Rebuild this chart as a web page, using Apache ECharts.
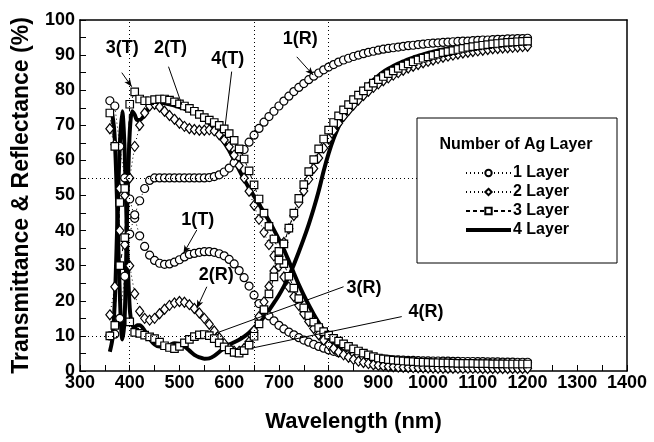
<!DOCTYPE html>
<html>
	<head>
		<meta charset="utf-8" />
		<title>Ag layer T/R</title>
		<script src="https://cdn.jsdelivr.net/npm/echarts@6/dist/echarts.min.js"></script>
		<style>
			html, body { margin: 0; padding: 0; background: #fff; }
			#main { width: 654px; height: 442px; }
		</style>
	</head>
	<body>
		<div id="main"></div>
		<script type="text/javascript">
			// wavelength grid (nm) for layers 1-3
			var wl = [360,370,380,390,400,410,420,430,440,450,
				460,470,480,490,500,510,520,530,540,550,
				560,570,580,590,600,610,620,630,640,650,
				660,670,680,690,700,710,720,730,740,750,
				760,770,780,790,800,810,820,830,840,850,
				860,870,880,890,900,910,920,930,940,950,
				960,970,980,990,1000,1010,1020,1030,1040,1050,
				1060,1070,1080,1090,1100,1110,1120,1130,1140,1150,
				1160,1170,1180,1190,1200];
			// finer grid at the start for the 4 layer curves
			var wl4 = [360,365,370,375,380,385,390,395,400,405,410,415,420,
				430,440,450,460,470,480,490,500,510,520,
				530,540,550,560,570,580,590,600,610,620,
				630,640,650,660,670,680,690,700,710,720,
				730,740,750,760,770,780,790,800,810,820,
				830,840,850,860,870,880,890,900,910,920,
				930,940,950,960,970,980,990,1000,1010,1020,
				1030,1040,1050,1060,1070,1080,1090,1100,1110,1120,
				1130,1140,1150,1160,1170,1180,1190,1200];

			var t1 = [77,75.5,64,55,49,43.5,38.5,35.5,33,31.5,
				30.7,30.4,30.5,31,31.7,32.5,33.2,33.5,33.8,34,
				34,33.8,33.4,32.8,31.8,30.5,28.6,26.6,24.2,21.6,
				19.2,17.3,15.7,14.3,13,12,11.1,10.3,9.5,8.8,
				8.2,7.6,7,6.5,6,5.6,5.2,4.9,4.6,4.3,
				4.1,3.9,3.7,3.6,3.5,3.4,3.3,3.2,3.15,3.1,
				3.05,3,2.95,2.9,2.9,2.85,2.85,2.8,2.8,2.75,
				2.75,2.7,2.7,2.7,2.65,2.65,2.6,2.6,2.6,2.55,
				2.55,2.55,2.5,2.5,2.5];
			var r1 = [10,10.5,15,27,39,44.5,48.5,52,54.3,55,
				55,55,55,55,55,55,55,55,55,55,
				55.1,55.4,55.9,56.7,57.8,59.3,61.1,63.1,65.2,67.2,
				69.1,70.9,72.5,74,75.5,76.9,78.3,79.6,80.8,81.9,
				83,84,84.9,85.8,86.6,87.3,88,88.6,89.1,89.6,
				90,90.4,90.8,91.1,91.4,91.7,91.9,92.1,92.3,92.5,
				92.7,92.8,93,93.1,93.3,93.4,93.5,93.6,93.7,93.8,
				93.9,94,94,94.1,94.2,94.3,94.3,94.4,94.5,94.5,
				94.6,94.6,94.7,94.7,94.8];
			var t2 = [69,64.5,40,36,55,64,70,73.5,75.5,76,
				75.2,74,72.8,71.7,70.6,69.7,69.1,68.8,68.6,68.6,
				68.7,68.4,67.3,65.8,63.9,61.5,58.5,55,51.2,47.2,
				43.2,39.5,36,32.8,29.8,26.8,23.9,21.2,18.7,16.3,
				14.1,12.1,10.3,8.8,7.5,6.4,5.4,4.6,3.9,3.3,
				2.8,2.4,2.1,1.8,1.6,1.45,1.3,1.2,1.1,1.05,
				1,0.95,0.9,0.9,0.85,0.85,0.8,0.8,0.8,0.8,
				0.75,0.75,0.75,0.75,0.75,0.7,0.7,0.7,0.7,0.7,
				0.7,0.7,0.7,0.7,0.7];
			var r2 = [16,24,52,50,30,22,17,15,14.5,15,
				16.3,17.6,18.7,19.4,19.8,19.6,18.9,17.8,16.5,15,
				13.3,11.4,9.5,7.8,6.5,5.6,5.6,6.4,8.3,11.5,
				15.5,19.7,24.1,28.5,32.6,36.6,40.5,44.3,47.9,51.3,
				54.6,57.7,60.7,63.5,66.1,68.5,70.6,72.5,74.2,75.8,
				77.2,78.5,79.7,80.8,81.8,82.7,83.5,84.3,85,85.7,
				86.3,86.8,87.3,87.8,88.2,88.6,89,89.4,89.7,90,
				90.3,90.6,90.8,91,91.2,91.4,91.6,91.8,91.9,92,
				92.1,92.2,92.3,92.4,92.5];
			var t3 = [73.5,64,30,38,76,79.5,77.5,77,77,77.3,
				77.5,77.5,77.2,76.7,76.1,75.5,74.8,74,73.1,72.2,
				71.5,70.8,70,69,67.6,65.7,63.3,60.4,57,53,
				49,45,41.2,37.6,34.1,30.6,27,23.6,20.6,18,
				15.8,13.9,12.4,11.2,10.2,9.3,8.5,7.7,7,6.3,
				5.7,5.1,4.6,4.1,3.7,3.45,3.25,3.1,2.95,2.85,
				2.75,2.65,2.55,2.5,2.45,2.4,2.35,2.3,2.3,2.25,
				2.2,2.2,2.15,2.15,2.1,2.1,2.1,2.05,2.05,2.05,
				2,2,2,2,2];
			var r3 = [10,13,48,52,14,11,10.7,10.2,9.7,9.2,
				8.2,7.2,6.7,6.4,7,8,9,9.8,10.3,10.4,
				10.1,9.2,8,6.9,6,5.3,5.1,5.8,7.4,9.9,
				13.4,17.5,22,26.8,31.6,36.2,40.7,45,49.2,53.1,
				56.8,60.2,63.3,66.1,68.6,70.8,72.7,74.4,75.9,77.3,
				78.6,79.8,81,82,83,83.9,84.7,85.5,86.2,86.9,
				87.5,88.1,88.6,89.1,89.5,89.9,90.3,90.7,91,91.3,
				91.6,91.9,92.2,92.4,92.6,92.8,93,93.2,93.3,93.5,
				93.6,93.7,93.8,93.9,94];
			var t4 = [74,73,66,46,22,9,16,46,68,74,73,71.5,71.5,
				73,75.3,76.3,76.5,76.3,76,75.6,75.2,74.7,74.2,
				73.6,72.8,71.8,70.6,69.2,67.4,65.2,62.8,60.1,57.3,
				54.6,52.1,49.8,47.5,45.2,42.8,40.2,37.5,34.6,31.3,
				27.9,24.6,21.6,18.8,16.2,13.8,11.7,9.8,8.1,6.7,
				5.5,4.5,3.6,2.9,2.3,1.8,1.4,1.1,0.9,0.7,
				0.6,0.5,0.45,0.4,0.35,0.3,0.3,0.3,0.25,0.25,
				0.25,0.2,0.2,0.2,0.2,0.2,0.2,0.2,0.2,0.2,
				0.2,0.2,0.2,0.2,0.2,0.2,0.2,0.2];
			var r4 = [5.5,9,20,42,64,74,62,35,18,13,12.5,13,13,
				11.5,9.2,7.6,7,7,7.4,7.9,7.8,7,5.8,
				4.6,3.9,3.5,3.6,4.3,5.4,6.6,7.5,8.2,8.9,
				9.8,10.9,12.3,13.8,15.4,17.3,19.4,21.6,24.1,27,
				30.3,33.9,37.7,41.8,46.3,51.3,57,62,66.2,69.6,
				72.5,74.9,76.9,78.6,80.2,81.6,82.9,84.1,85.2,86.1,
				86.9,87.6,88.2,88.8,89.3,89.8,90.2,90.6,91,91.3,
				91.6,91.9,92.1,92.3,92.5,92.7,92.9,93,93.1,93.2,
				93.3,93.4,93.5,93.6,93.6,93.7,93.7,93.8];

			var xTicks = [300,400,500,600,700,800,900,1000,1100,1200,1300,1400];
			var layerNames = ['1 Layer','2 Layer','3 Layer','4 Layer'];

			var FONT = '"Liberation Sans", Arial, sans-serif';

			function pairs(xs, ys) {
				var out = [];
				for (var i = 0; i < xs.length; i++) out.push([xs[i], ys[i]]);
				return out;
			}

			function markerSeries(name, xs, ys, symbol, size, dash) {
				return {
					name: name,
					type: 'line',
					data: pairs(xs, ys),
					symbol: symbol,
					symbolSize: size,
					showAllSymbol: true,
					itemStyle: {color: '#fff', borderColor: '#000', borderWidth: 1.2},
					lineStyle: {color: '#000', width: 1, type: dash},
					emphasis: {disabled: true}
				};
			}

			function thickSeries(name, xs, ys) {
				return {
					name: name,
					type: 'line',
					data: pairs(xs, ys),
					symbol: 'none',
					smooth: 0.3,
					itemStyle: {color: '#000'},
					lineStyle: {color: '#000', width: 4},
					emphasis: {disabled: true}
				};
			}

			var myChart = echarts.init(document.getElementById('main'));

			var dotted = {color: '#000', width: 1, type: [1, 3]};
			var noteLine = {color: '#000', width: 1, type: 'solid'};

			// helper series that only carries reference lines and labels
			var notes = {
				name: 'notes',
				type: 'line',
				data: [],
				markLine: {
					silent: true,
					symbol: 'none',
					label: {show: false},
					animation: false,
					data: [
						[{coord: [400, 0], lineStyle: dotted}, {coord: [400, 100]}],
						[{coord: [650, 0], lineStyle: dotted}, {coord: [650, 100]}],
						[{coord: [800, 0], lineStyle: dotted}, {coord: [800, 100]}],
						[{coord: [300, 10], lineStyle: dotted}, {coord: [1400, 10]}],
						[{coord: [300, 55], lineStyle: dotted}, {coord: [978, 55]}],
						[{coord: [384, 85], lineStyle: noteLine}, {coord: [404, 81], symbol: 'arrow', symbolSize: [5, 8]}],
						[{coord: [478, 86.7], lineStyle: noteLine}, {coord: [505, 75.8]}],
						[{coord: [605, 85.3], lineStyle: noteLine}, {coord: [592, 70]}],
						[{coord: [736, 89.5], lineStyle: noteLine}, {coord: [769, 84.3], symbol: 'arrow', symbolSize: [5, 8]}],
						[{coord: [535, 40.2], lineStyle: noteLine}, {coord: [508, 33.5], symbol: 'arrow', symbolSize: [5, 8]}],
						[{coord: [555, 24], lineStyle: noteLine}, {coord: [535, 17.9], symbol: 'arrow', symbolSize: [5, 8]}],
						[{coord: [830, 24], lineStyle: noteLine}, {coord: [572, 10.7]}],
						[{coord: [947, 15.5], lineStyle: noteLine}, {coord: [645, 6.5]}]
					]
				},
				markPoint: {
					silent: true,
					symbol: 'circle',
					symbolSize: 0,
					label: {
						show: true,
						position: 'inside',
						formatter: '{b}',
						color: '#000',
						fontFamily: FONT,
						fontWeight: 'bold',
						fontSize: 18
					},
					data: [
						{name: '3(T)', coord: [385, 92]},
						{name: '2(T)', coord: [482, 92]},
						{name: '4(T)', coord: [597, 89]},
						{name: '1(R)', coord: [743, 94.7]},
						{name: '1(T)', coord: [537, 43]},
						{name: '2(R)', coord: [574, 27.4]},
						{name: '3(R)', coord: [871, 23.5]},
						{name: '4(R)', coord: [996, 16.9]}
					]
				}
			};

			var option = {
				animation: false,
				backgroundColor: '#fff',
				grid: {left: 80, right: 27, top: 20, bottom: 71},
				xAxis: [
					{
						type: 'value',
						min: 300,
						max: 1400,
						interval: 100,
						name: 'Wavelength (nm)',
						nameLocation: 'middle',
						nameGap: 40,
						nameTextStyle: {color: '#000', fontFamily: FONT, fontWeight: 'bold', fontSize: 22},
						axisLine: {lineStyle: {color: '#000', width: 1.5}},
						axisTick: {inside: true, length: 6, lineStyle: {color: '#000', width: 1}},
						minorTick: {show: true, splitNumber: 2, length: 6, lineStyle: {color: '#000', width: 1}},
						splitLine: {show: false},
						axisLabel: {
							color: '#000', fontFamily: FONT, fontWeight: 'bold', fontSize: 18, margin: 3,
							formatter: function (v) { return xTicks.indexOf(v) >= 0 ? String(v) : ''; }
						}
					},
					{
						type: 'value',
						position: 'top',
						min: 300,
						max: 1400,
						interval: 100,
						axisLine: {show: true, onZero: false, lineStyle: {color: '#000', width: 1.5}},
						axisTick: {show: false},
						axisLabel: {show: false},
						splitLine: {show: false}
					}
				],
				yAxis: [
					{
						type: 'value',
						min: 0,
						max: 100,
						interval: 10,
						name: 'Transmittance & Reflectance (%)',
						nameLocation: 'middle',
						nameGap: 47,
						nameTextStyle: {color: '#000', fontFamily: FONT, fontWeight: 'bold', fontSize: 23},
						axisLine: {show: true, lineStyle: {color: '#000', width: 1.5}},
						axisTick: {inside: true, length: 6, lineStyle: {color: '#000', width: 1}},
						minorTick: {show: true, splitNumber: 2, length: 6, lineStyle: {color: '#000', width: 1}},
						splitLine: {show: false},
						axisLabel: {color: '#000', fontFamily: FONT, fontWeight: 'bold', fontSize: 18, margin: 5}
					},
					{
						type: 'value',
						position: 'right',
						min: 0,
						max: 100,
						interval: 10,
						axisLine: {show: true, onZero: false, lineStyle: {color: '#000', width: 1.5}},
						axisTick: {show: false},
						axisLabel: {show: false},
						splitLine: {show: false}
					}
				],
				legend: {
					data: [
						'1 Layer', '2 Layer', '3 Layer',
						{name: '4 Layer', itemStyle: {opacity: 0}, lineStyle: {width: 4}}
					],
					orient: 'vertical',
					left: 459,
					top: 160,
					itemWidth: 45,
					itemHeight: 8,
					itemGap: 3,
					selectedMode: false,
					textStyle: {color: '#000', fontFamily: FONT, fontWeight: 'bold', fontSize: 16, padding: [0, 0, 0, -3]}
				},
				graphic: [
					{
						type: 'rect',
						z: 3,
						shape: {x: 417, y: 118, width: 200, height: 145},
						style: {fill: '#fff', stroke: '#000', lineWidth: 1}
					},
					{
						type: 'text',
						z: 5,
						x: 516,
						y: 145,
						style: {
							text: 'Number of Ag Layer',
							fill: '#000',
							font: 'bold 16px ' + FONT,
							textAlign: 'center',
							textVerticalAlign: 'middle'
						}
					}
				],
				series: [
					markerSeries('1 Layer', wl, t1, 'circle', 8, [1, 3]),
					markerSeries('1 Layer', wl, r1, 'circle', 8, [1, 3]),
					markerSeries('2 Layer', wl, t2, 'diamond', [8, 10], [1, 3]),
					markerSeries('2 Layer', wl, r2, 'diamond', [8, 10], [1, 3]),
					markerSeries('3 Layer', wl, t3, 'rect', 7.5, [4, 3]),
					markerSeries('3 Layer', wl, r3, 'rect', 7.5, [4, 3]),
					thickSeries('4 Layer', wl4, t4),
					thickSeries('4 Layer', wl4, r4),
					notes
				]
			};

			myChart.setOption(option);
		</script>
	</body>
</html>
